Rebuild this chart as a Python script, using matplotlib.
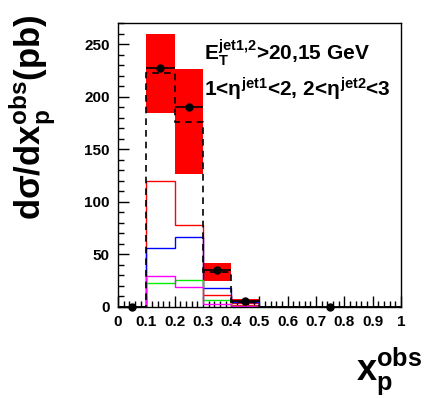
import numpy as np
import matplotlib
matplotlib.use("Agg")
import matplotlib.pyplot as plt
from matplotlib.ticker import MultipleLocator

plt.rcParams['font.family'] = ['Liberation Sans', 'DejaVu Sans']
plt.rcParams['font.weight'] = 'bold'
plt.rcParams['mathtext.fontset'] = 'custom'
plt.rcParams['mathtext.rm'] = 'Liberation Sans:bold'
plt.rcParams['mathtext.it'] = 'Liberation Sans:bold'
plt.rcParams['mathtext.bf'] = 'Liberation Sans:bold'

# bin edges of x_p^obs
edges = [0.0, 0.1, 0.2, 0.3, 0.4, 0.5, 1.0]

# measured points
data_x = [0.05, 0.15, 0.25, 0.35, 0.45, 0.75]
data_y = [0.0, 227.0, 190.0, 35.0, 5.0, 0.0]
data_xerr = [0.05, 0.05, 0.05, 0.05, 0.05, 0.25]
data_yerr = [0.0, 2.0, 2.0, 1.5, 0.5, 0.0]

# energy-scale uncertainty band (low, high) per bin
band_lo = [0.0, 184.0, 126.0, 24.0, 3.0, 0.0]
band_hi = [0.0, 260.0, 226.0, 42.0, 7.0, 0.0]

# predictions
nlo_total = [0.0, 222.0, 176.0, 33.0, 4.0, 0.0]
pred_red = [0.0, 120.0, 78.0, 11.0, 2.0, 0.0]
pred_blue = [0.0, 55.5, 66.5, 17.5, 4.0, 0.0]
pred_magenta = [0.0, 29.5, 18.5, 3.0, 1.0, 0.0]
pred_green = [0.0, 23.0, 25.5, 6.5, 1.0, 0.0]

xtick_labels = ['0', '0.1', '0.2', '0.3', '0.4', '0.5', '0.6', '0.7',
                '0.8', '0.9', '1']

fig = plt.figure(figsize=(4.25, 3.98), dpi=100)
ax = fig.add_axes([0.2776, 0.2294, 0.6659, 0.7128])

lefts = np.array(edges[:-1])
widths = np.diff(edges)
ax.bar(lefts, np.array(band_hi) - np.array(band_lo), width=widths,
       bottom=band_lo, align='edge', color='#ff0000', linewidth=0, zorder=1)

ax.stairs(pred_red, edges, color='#ff0000', lw=1.0, zorder=2)
ax.stairs(pred_blue, edges, color='#0000ff', lw=1.0, zorder=2)
ax.stairs(pred_green, edges, color='#00ee00', lw=1.0, zorder=2)
ax.stairs(pred_magenta, edges, color='#ff00ff', lw=1.0, zorder=2)
ax.stairs(nlo_total, edges, color='black', lw=1.2, ls=(0, (4, 3)), zorder=3)

ax.errorbar(data_x, data_y, xerr=data_xerr, yerr=data_yerr, fmt='o',
            color='black', ms=5, lw=1.2, capsize=0, zorder=4, clip_on=False)

ax.set_xlim(0, 1)
ax.set_ylim(0, 270)
ax.set_xticks(np.arange(0, 1.01, 0.1))
ax.set_xticklabels(xtick_labels)
ax.xaxis.set_minor_locator(MultipleLocator(0.02))
ax.yaxis.set_major_locator(MultipleLocator(50))
ax.yaxis.set_minor_locator(MultipleLocator(10))
ax.tick_params(which='both', direction='in', top=False, right=False,
               labelsize=11, width=1)
ax.tick_params(which='major', length=8, pad=6)
ax.tick_params(which='minor', length=4)
for lab in ax.get_xticklabels() + ax.get_yticklabels():
    lab.set_fontweight('bold')
for sp in ax.spines.values():
    sp.set_linewidth(1.0)

fig.text(0.078, 0.705, r'd$\sigma$/dx$_{\rm p}^{\rm obs}$(pb)', rotation=90,
         ha='center', va='center', fontsize=25, fontweight='bold')
fig.text(0.993, 0.045, r'x$_{\rm p}^{\rm obs}$', ha='right', va='baseline',
         fontsize=26, fontweight='bold')

ax.text(0.305, 0.87, r'E$_{\rm T}^{\rm jet1{,}2}$>20,15 GeV',
        transform=ax.transAxes, fontsize=15, fontweight='bold', va='baseline')
ax.text(0.305, 0.74, r'1<$\eta^{\rm jet1}$<2, 2<$\eta^{\rm jet2}$<3',
        transform=ax.transAxes, fontsize=15, fontweight='bold', va='baseline')

fig.savefig('out.png', dpi=100)
